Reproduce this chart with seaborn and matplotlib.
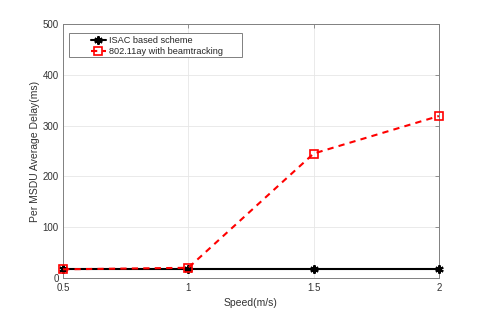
import numpy as np
import pandas as pd
import matplotlib
matplotlib.use('Agg')
import matplotlib.pyplot as plt
from matplotlib.patches import Rectangle
import seaborn as sns

speed = [0.5, 1.0, 1.5, 2.0]
isac_delay = [17.5, 17.5, 17.5, 17.5]
ay_delay = [17.0, 20.0, 245.0, 319.0]

df = pd.DataFrame({
    'speed': speed * 2,
    'delay': isac_delay + ay_delay,
    'scheme': ['ISAC based scheme'] * 4 + ['802.11ay with beamtracking'] * 4,
})

sns.set_style('white')
plt.rcParams['font.family'] = ['Liberation Sans', 'DejaVu Sans']

fig, ax = plt.subplots(figsize=(4.85, 3.13), dpi=100)
fig.subplots_adjust(left=0.130, right=0.905, top=0.923, bottom=0.112)

sns.lineplot(data=df[df.scheme == 'ISAC based scheme'], x='speed', y='delay',
             color='black', lw=1.5, marker=(6, 2, 0), markersize=6,
             markeredgewidth=1.5, markeredgecolor='black',
             label='ISAC based scheme', ax=ax, zorder=3, clip_on=False)
sns.lineplot(data=df[df.scheme == '802.11ay with beamtracking'], x='speed', y='delay',
             color='red', lw=1.5, linestyle=(0, (3, 2.5)), marker='s', markersize=6,
             markerfacecolor='none', markeredgecolor='red', markeredgewidth=1.2,
             label='802.11ay with beamtracking', ax=ax, zorder=4, clip_on=False)

ax.set_xlim(0.5, 2)
ax.set_ylim(0, 500)
ax.set_xticks([0.5, 1, 1.5, 2])
ax.set_xticklabels(['0.5', '1', '1.5', '2'])
ax.set_yticks([0, 100, 200, 300, 400, 500])
ax.grid(True, color='#e6e6e6', lw=0.6)
ax.set_axisbelow(True)
for s in ax.spines.values():
    s.set_color('#808080')
    s.set_linewidth(0.7)
ax.tick_params(direction='in', length=3, width=0.6, color='#808080',
               labelsize=7, labelcolor='#333333', top=True, right=True)
ax.tick_params(axis='x', pad=4)
ax.tick_params(axis='y', pad=3)
ax.set_xlabel('Speed(m/s)', fontsize=7.5, color='#333333', labelpad=3)
ax.set_ylabel('Per MSDU Average Delay(ms)', fontsize=7.5, color='#333333', labelpad=2)

# MATLAB-style legend box, wider than its contents
ax.add_patch(Rectangle((0.016, 0.872), 0.46, 0.093, transform=ax.transAxes,
                       facecolor='white', edgecolor='#808080', lw=0.7, zorder=5))
leg = ax.legend(loc='upper left', bbox_to_anchor=(0.066, 0.965), fontsize=6.6,
                frameon=False, handlelength=1.7, borderpad=0.3, labelspacing=0.3,
                handletextpad=0.3, borderaxespad=0)
leg.set_zorder(6)

fig.savefig('out.png', dpi=100)
